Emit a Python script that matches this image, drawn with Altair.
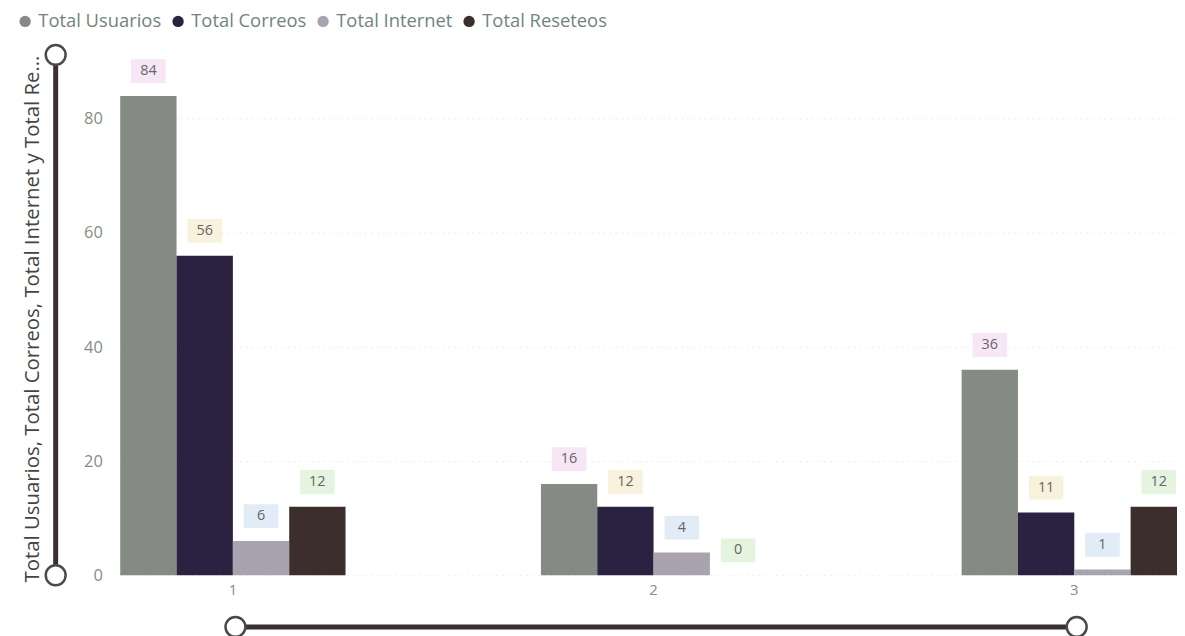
import altair as alt
import pandas as pd

categories = ["1", "2", "3"]
series = ["Total Usuarios", "Total Correos", "Total Internet", "Total Reseteos"]
usuarios = [84, 16, 36]
correos = [56, 12, 11]
internet = [6, 4, 1]
reseteos = [12, 0, 12]
y_ticks = [0, 20, 40, 60, 80]

bar_colors = ["#858a84", "#2b2242", "#a9a3b0", "#3b2e2c"]
label_bg = ["#f6e6f6", "#f8f2dc", "#e2ecf6", "#e4f4de"]

rows = []
for i, c in enumerate(categories):
    for s, vals in zip(series, [usuarios, correos, internet, reseteos]):
        rows.append({"cat": c, "serie": s, "value": vals[i]})
df = pd.DataFrame(rows)

FONT = "Segoe UI, Open Sans, sans-serif"
W, H = 1064, 517

x = alt.X("cat:N", sort=categories, title=None,
          scale=alt.Scale(paddingInner=0.4645, paddingOuter=0, range=[0, 1074]),
          axis=alt.Axis(labelAngle=0, ticks=False, domain=False, labelFontSize=15,
                        labelColor="#8a8a8a", labelPadding=7, labelFont=FONT))
xoff = alt.XOffset("serie:N", sort=series, scale=alt.Scale(paddingInner=0, paddingOuter=0))
y = alt.Y("value:Q", scale=alt.Scale(domain=[0, 90], nice=False),
          title="Total Usuarios, Total Correos, Total Internet y Total Re...",
          axis=alt.Axis(values=y_ticks, ticks=False, domain=False, labelFontSize=16.5,
                        labelColor="#7f8f86", labelPadding=18, labelFont=FONT,
                        titleFont=FONT, titleFontSize=20.5, titleFontWeight="normal",
                        titleColor="#444444", titleX=-78, titleY=H / 2,
                        gridColor="#ededed", gridDash=[2, 4], gridWidth=1))

bars = alt.Chart(df).mark_bar().encode(
    x=x, xOffset=xoff, y=y,
    color=alt.Color("serie:N", sort=series,
                    scale=alt.Scale(domain=series, range=bar_colors),
                    legend=alt.Legend(title=None, orient="none", legendX=-105, legendY=-50,
                                      direction="horizontal", symbolType="circle",
                                      symbolSize=130, labelFontSize=18.5, labelFont=FONT,
                                      labelColor="#6f8580", columnPadding=7,
                                      symbolOffset=0, labelOffset=4)),
)

bg = alt.Chart(df).mark_point(
    shape="M-1.45,-1L1.45,-1L1.45,1L-1.45,1Z", filled=True, opacity=1, size=576, yOffset=-25
).encode(
    x=x, xOffset=xoff, y=y,
    color=alt.Color("serie:N", sort=series,
                    scale=alt.Scale(domain=series, range=label_bg), legend=None),
)

txt = alt.Chart(df).mark_text(
    fontSize=14.5, color="#666666", baseline="middle", dy=-25, font=FONT
).encode(x=x, xOffset=xoff, y=y, text=alt.Text("value:Q"))

one = alt.Data(values=[{"k": 0}])
slider_v = alt.Chart(one).mark_rule(color="#3a3030", strokeWidth=5).encode(
    x=alt.value(-65), y=alt.value(-7), y2=alt.value(H))
slider_h = alt.Chart(one).mark_rule(color="#3a3030", strokeWidth=5).encode(
    y=alt.value(569), x=alt.value(116), x2=alt.value(963))
knobs = []
for kx, ky in [(-65, -7), (-65, H), (116, 569), (963, 569)]:
    knobs.append(alt.Chart(one).mark_point(
        shape="circle", filled=True, fill="white", stroke="#4a4a4a", strokeWidth=2.5,
        size=400, opacity=1).encode(x=alt.value(kx), y=alt.value(ky)))

chart = alt.layer(bars, bg, txt, slider_v, slider_h, *knobs).resolve_scale(
    color="independent"
).properties(
    width=W, height=H,
    autosize=alt.AutoSizeParams(type="none"),
    padding={"left": 113, "top": 52, "right": 0, "bottom": 59},
).configure(background="white").configure_view(stroke=None)

chart.save("out.html", embed_options={"renderer": "svg", "actions": False})
